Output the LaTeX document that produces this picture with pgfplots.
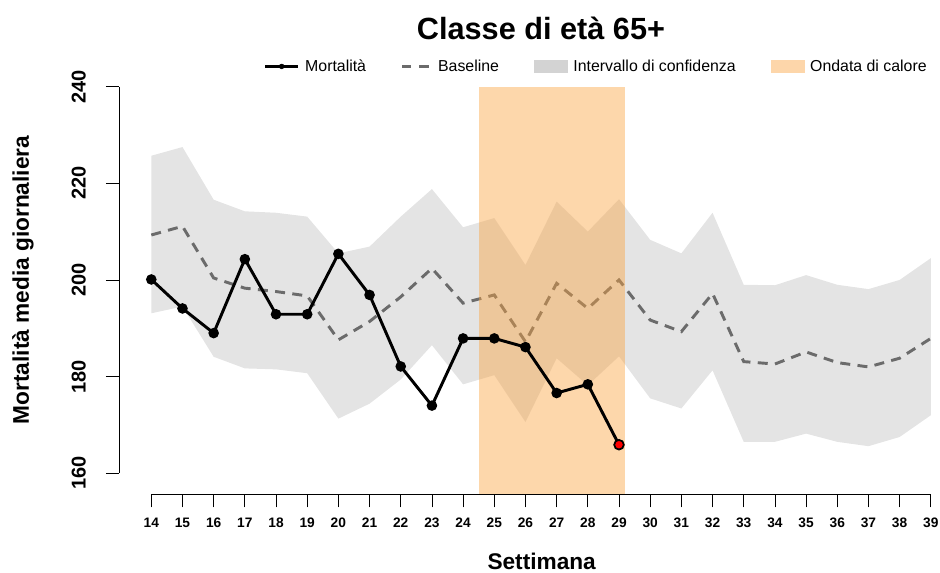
\documentclass[border=0pt]{standalone}
\usepackage{fontspec}
\setmainfont{Liberation Sans}
\usepackage{pgfplots}
\pgfplotsset{compat=1.18}
\definecolor{cigray}{RGB}{228,228,228}
\definecolor{cilegend}{RGB}{211,211,211}
\definecolor{basegray}{RGB}{107,107,107}
\definecolor{heat}{RGB}{250,163,64}
\definecolor{heatlegend}{RGB}{253,214,170}
\begin{document}
\begin{tikzpicture}
\useasboundingbox (-89.25pt,-58.3pt) rectangle (615.75pt,370.7pt);
\begin{axis}[
  at={(0pt,0pt)}, anchor=south west,
  scale only axis, width=615.75pt, height=322pt,
  xmin=12.964, xmax=39.295, ymin=155.65, ymax=244.49,
  axis x line*=bottom, axis y line*=left,
  axis line style={draw=none},
  xtick={14,...,39}, ytick={160,180,...,240},
  tick align=outside, major tick length=9.75pt,
  tick style={black, line width=0.6pt},
  /pgf/number format/assume math mode=true,
  xticklabel style={font=\fontsize{10.3}{12}\selectfont\bfseries, anchor=north, inner sep=0pt, yshift=-8pt},
  yticklabel style={font=\fontsize{15}{17}\selectfont\bfseries, rotate=90, anchor=south, inner sep=0pt, yshift=15pt},
  legend columns=4,
  legend style={at={(0.1764,0.9965)}, anchor=west, draw=none, fill=none, inner sep=0pt,
    font=\fontsize{11.9}{13}\selectfont,
    nodes={inner xsep=0pt},
    /tikz/every odd column/.append style={column sep=4.5pt},
    /tikz/every even column/.append style={column sep=26.2pt}},
  legend cell align=left,
]
\addlegendimage{legend image code/.code={\draw[black,line width=1.6pt] (0pt,0pt) -- (24.75pt,0pt); \fill[black] (12.4pt,0pt) circle (1.8pt);}}
\addlegendentry{Mortalità}
\addlegendimage{legend image code/.code={\draw[basegray,line width=1.6pt,dash pattern=on 7pt off 6pt] (3pt,0pt) -- (24.75pt,0pt);}}
\addlegendentry{Baseline}
\addlegendimage{legend image code/.code={\fill[cilegend] (0pt,-4.4pt) rectangle (24.75pt,4.4pt);}}
\addlegendentry{Intervallo di confidenza}
\addlegendimage{legend image code/.code={\fill[heatlegend] (0pt,-4.4pt) rectangle (24.75pt,4.4pt);}}
\addlegendentry{Ondata di calore}

% confidence interval
\addplot[forget plot, fill=cigray, draw=none] coordinates {
 (14,225.7) (15,227.5) (16,216.6) (17,214.2) (18,213.9) (19,213.1) (20,205.5) (21,206.9)
 (22,213.1) (23,218.8) (24,210.9) (25,212.8) (26,203.1) (27,216.2) (28,210.0) (29,216.7)
 (30,208.3) (31,205.5) (32,213.9) (33,199.0) (34,198.9) (35,201.0) (36,199.0) (37,198.1)
 (38,200.0) (39,204.5)
 (39,172.0) (38,167.5) (37,165.6) (36,166.5) (35,168.2) (34,166.5) (33,166.5) (32,181.3)
 (31,173.4) (30,175.5) (29,184.2) (28,178.2) (27,183.8) (26,170.6) (25,180.3) (24,178.4)
 (23,186.5) (22,179.4) (21,174.4) (20,171.3) (19,180.7) (18,181.5) (17,181.7) (16,184.1)
 (15,194.5) (14,193.1)
} -- cycle;

% baseline
\addplot[forget plot, basegray, line width=2.2pt, dash pattern=on 7.5pt off 5.5pt] coordinates {
 (14,209.3) (15,211.1) (16,200.4) (17,198.3) (18,197.6) (19,196.7) (20,187.6) (21,191.4)
 (22,196.5) (23,202.4) (24,195.2) (25,196.9) (26,187.2) (27,199.3) (28,194.1) (29,200.0)
 (30,191.7) (31,189.3) (32,197.2) (33,183.1) (34,182.6) (35,185.1) (36,182.9) (37,182.0)
 (38,183.8) (39,187.9)
};

% heat wave
\addplot[forget plot, fill=heat, fill opacity=0.44, draw=none] coordinates {
 (24.5,155.65) (29.2,155.65) (29.2,240) (24.5,240)
} -- cycle;

% mortality
\addplot[forget plot, black, line width=2.2pt, mark=*, mark size=2.8pt, mark options={solid}] coordinates {
 (14,200.1) (15,194.1) (16,189.0) (17,204.3) (18,192.9) (19,192.9) (20,205.4) (21,196.9)
 (22,182.1) (23,174.0) (24,187.9) (25,187.9) (26,186.1) (27,176.6) (28,178.4) (29,165.9)
};
\addplot[forget plot, only marks, mark=*, mark size=3.6pt, mark options={fill=red, draw=black, line width=1.3pt}] coordinates {(29,165.9)};

\draw[black, line width=0.6pt] (axis cs:14,155.65) -- (axis cs:39,155.65);
\draw[black, line width=0.6pt] (axis cs:12.964,160) -- (axis cs:12.964,240);
\end{axis}
\node[font=\fontsize{23}{26}\selectfont\bfseries] at (316.5pt,349.7pt) {Classe di età 65+};
\node[font=\fontsize{17}{20}\selectfont\bfseries] at (317pt,-50pt) {Settimana};
\node[font=\fontsize{17}{20}\selectfont\bfseries, rotate=90] at (-72pt,160.7pt) {Mortalità media giornaliera};
\end{tikzpicture}
\end{document}
